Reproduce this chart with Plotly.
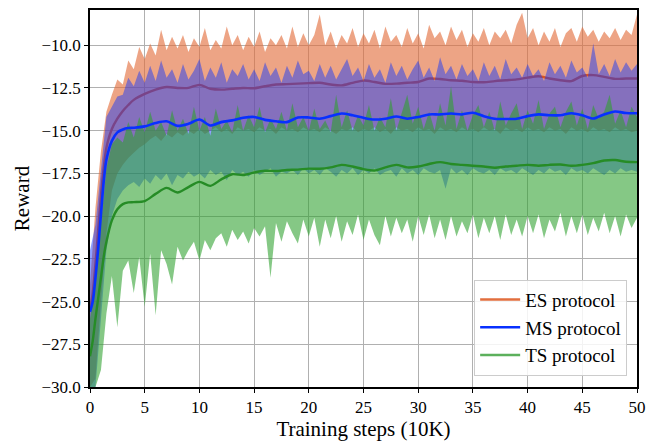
import numpy as np
import plotly.graph_objects as go

# ---------------- data ----------------
series_names = ["ES protocol", "MS protocol", "TS protocol"]

# x grid of the raw-reward envelopes (0 .. 50, step 0.5)
x_raw = [i * 0.5 for i in range(101)]

es_upper = [
    -24.0, -19.5, -16.2, -13.9, -12.9, -12.0, -12.3, -10.9, -11.4, -10.1,
    -10.8, -9.9, -10.6, -9.1, -10.3, -9.5, -10.2, -9.4, -10.4, -9.6,
    -10.1, -9.0, -10.3, -9.7, -10.2, -8.9, -10.0, -9.4, -10.3, -9.5,
    -10.1, -9.2, -10.4, -9.6, -10.0, -9.4, -10.2, -8.9, -10.1, -9.3,
    -10.0, -9.4, -8.2, -10.0, -9.2, -10.2, -9.4, -9.9, -9.0, -10.1,
    -9.3, -9.9, -9.1, -10.2, -8.9, -9.8, -9.4, -10.1, -9.0, -9.9,
    -9.3, -10.2, -8.8, -9.6, -9.2, -10.0, -8.9, -9.7, -9.1, -10.1,
    -9.3, -9.8, -9.0, -10.0, -9.2, -9.6, -9.1, -9.9, -8.8, -8.1,
    -9.6, -9.0, -10.0, -9.2, -9.8, -9.0, -10.1, -9.3, -9.0, -9.8,
    -8.9, -9.5, -9.1, -9.8, -9.2, -9.6, -9.0, -9.7, -9.1, -9.4,
    -8.2,
]
es_lower = [
    -30.0, -29.5, -25.0, -21.0, -18.5, -17.5, -17.0, -16.6, -16.3, -16.0,
    -15.8, -15.5, -15.3, -15.6, -15.2, -15.4, -15.1, -15.3, -15.0, -15.2,
    -14.9, -15.2, -15.0, -14.8, -15.1, -14.9, -15.2, -14.8, -15.0, -14.9,
    -15.1, -14.8, -15.0, -14.9, -15.2, -14.8, -15.0, -14.9, -15.1, -14.8,
    -15.0, -14.9, -15.1, -14.8, -15.0, -15.2, -14.9, -15.0, -14.8, -15.1,
    -14.9, -15.0, -14.8, -15.1, -14.9, -15.2, -14.8, -15.0, -14.9, -15.1,
    -14.8, -15.0, -14.9, -15.2, -14.8, -15.0, -14.9, -15.1, -14.8, -15.0,
    -14.9, -15.1, -14.8, -15.0, -14.9, -15.2, -14.8, -15.0, -14.9, -15.1,
    -14.8, -15.0, -14.9, -15.1, -14.8, -15.0, -14.9, -15.2, -14.8, -15.0,
    -14.9, -15.1, -14.8, -15.0, -14.9, -15.1, -14.8, -15.0, -14.9, -15.1,
    -15.0,
]
ms_upper = [
    -22.0, -20.5, -17.3, -14.2, -13.6, -13.0, -12.9, -11.9, -12.4, -11.5,
    -12.2, -11.2, -12.1, -10.9, -11.9, -11.4, -12.2, -11.1, -12.0, -11.5,
    -10.8, -12.1, -11.3, -11.9, -11.0, -12.2, -11.4, -11.8, -11.1, -12.0,
    -11.4, -12.1, -11.0, -11.8, -11.3, -12.2, -11.2, -11.9, -10.9, -11.7,
    -11.5, -12.1, -11.1, -11.9, -11.2, -12.0, -11.4, -10.8, -11.8, -11.3,
    -12.1, -11.1, -11.9, -11.4, -12.2, -11.0, -11.8, -11.2, -12.0, -11.4,
    -10.9, -11.9, -11.3, -12.1, -10.7, -11.7, -11.2, -12.0, -11.1, -11.8,
    -11.4, -12.1, -11.0, -11.8, -11.2, -12.0, -10.8, -11.7, -11.3, -11.9,
    -11.1, -11.8, -11.4, -12.1, -11.0, -11.7, -11.2, -11.9, -10.9, -11.6,
    -11.3, -11.9, -9.9, -11.7, -11.1, -11.8, -10.8, -11.6, -11.0, -11.5,
    -11.1,
]
ms_lower = [
    -30.0, -30.0, -26.0, -22.0, -20.0, -19.0, -18.5, -18.2, -18.0, -18.3,
    -17.8, -18.1, -17.6, -17.9, -17.5, -18.2, -17.6, -17.8, -17.4, -17.7,
    -17.5, -17.8, -17.3, -17.6, -17.4, -17.9, -17.3, -17.6, -17.4, -17.7,
    -17.3, -17.6, -17.4, -17.2, -17.7, -17.4, -17.5, -17.3, -17.6, -17.2,
    -17.5, -17.3, -17.6, -17.2, -17.4, -17.7, -17.3, -17.5, -17.2, -17.6,
    -17.3, -17.5, -17.2, -17.6, -17.4, -17.3, -17.7, -17.2, -17.5, -17.3,
    -17.6, -17.2, -17.4, -17.5, -17.3, -18.4, -17.2, -17.5, -17.3, -17.6,
    -17.2, -17.4, -17.5, -17.3, -17.6, -17.2, -17.4, -17.3, -17.5, -17.2,
    -17.4, -17.6, -17.3, -17.5, -17.2, -17.4, -17.3, -17.6, -17.2, -17.4,
    -17.3, -17.5, -17.2, -17.4, -17.6, -17.3, -17.5, -17.2, -17.4, -17.3,
    -17.4,
]
ts_upper = [
    -26.0, -24.0, -20.5, -17.2, -15.8, -15.4, -15.7, -14.5, -15.4, -14.2,
    -15.1, -13.9, -15.0, -14.5, -15.3, -13.8, -15.0, -14.3, -15.2, -13.6,
    -15.0, -14.2, -15.3, -13.7, -14.9, -14.4, -15.1, -13.5, -15.0, -14.1,
    -14.8, -13.6, -15.1, -14.3, -14.9, -13.9, -15.0, -13.4, -14.8, -14.2,
    -15.0, -13.7, -14.9, -14.4, -15.1, -12.9, -14.8, -13.8, -15.0, -14.1,
    -14.7, -13.5, -15.0, -14.2, -14.8, -13.1, -15.0, -14.0, -12.9, -14.6,
    -13.6, -14.9, -13.9, -15.0, -13.4, -14.7, -12.4, -14.9, -13.8, -15.0,
    -14.1, -13.5, -14.8, -13.9, -15.0, -13.3, -14.7, -14.0, -13.4, -14.9,
    -13.8, -14.6, -13.2, -14.9, -14.0, -13.6, -14.8, -13.9, -13.3, -14.7,
    -13.7, -14.9, -13.5, -14.3, -13.9, -12.9, -14.6, -13.8, -14.8, -13.6,
    -14.2,
]
ts_lower = [
    -30.0, -30.0, -29.0, -25.7, -23.5, -26.5, -23.2, -22.6, -24.5, -22.4,
    -25.3, -22.2, -25.8, -22.0, -22.8, -24.0, -21.8, -22.6, -22.0, -21.5,
    -22.6, -21.4, -22.0, -21.3, -21.0, -21.8, -20.8, -21.4, -20.9, -21.6,
    -20.7, -21.2, -20.6, -23.6, -20.4, -21.5, -20.3, -21.0, -21.6, -20.2,
    -21.2, -20.1, -21.8, -20.2, -21.3, -20.0, -21.5, -20.3, -21.1, -19.9,
    -21.4, -20.2, -21.1, -21.7, -20.0, -21.2, -20.1, -21.0, -20.2, -21.5,
    -20.0, -21.1, -19.9, -21.3, -20.2, -21.4, -20.0, -21.2, -20.3, -21.0,
    -19.9, -21.3, -20.1, -21.0, -20.0, -21.4, -19.9, -21.1, -20.2, -21.2,
    -20.0, -21.0, -19.9, -21.3, -20.2, -20.9, -19.8, -21.2, -20.0, -21.0,
    -19.9, -21.1, -20.1, -20.9, -19.8, -21.0, -20.0, -21.2, -19.9, -20.7,
    -20.1,
]

# smoothed curves
x_smooth = [0, 0.25, 0.5, 0.75, 1, 1.25, 1.5, 2, 2.5, 3, 3.5, 4, 5, 6, 7, 8, 9, 10,
            11, 12, 13, 14, 15, 16, 17, 18, 19, 20, 21, 22, 23, 24, 25, 26, 27, 28,
            29, 30, 31, 32, 33, 34, 35, 36, 37, 38, 39, 40, 41, 42, 43, 44, 45, 46,
            47, 48, 49, 50]
es_smooth = [-25.5, -24.5, -22.8, -20.8, -18.8, -17.2, -16.0, -14.9, -14.3, -13.85,
             -13.5, -13.2, -12.85, -12.6, -12.45, -12.5, -12.5, -12.32, -12.55, -12.6,
             -12.55, -12.5, -12.52, -12.4, -12.3, -12.28, -12.25, -12.22, -12.2, -12.3,
             -12.35, -12.2, -12.07, -12.15, -12.26, -12.25, -12.2, -12.15, -11.95, -11.98,
             -12.05, -12.08, -12.15, -12.17, -12.1, -12.05, -12.0, -11.9, -11.82, -11.95,
             -12.05, -12.1, -11.8, -11.75, -11.85, -11.97, -11.95, -11.95]
ms_smooth = [-25.6, -25.0, -23.6, -21.9, -19.9, -18.0, -16.7, -15.6, -15.1, -14.93,
             -14.85, -14.83, -14.75, -14.55, -14.45, -14.72, -14.6, -14.35, -14.7, -14.5,
             -14.4, -14.25, -14.2, -14.37, -14.45, -14.5, -14.23, -14.23, -14.3, -14.15,
             -14.0, -14.1, -14.25, -14.35, -14.3, -14.17, -14.3, -14.2, -14.05, -14.05,
             -14.0, -14.05, -13.95, -14.15, -14.3, -14.32, -14.3, -14.15, -14.05, -14.1,
             -14.1, -13.98, -14.1, -14.29, -14.05, -13.88, -13.97, -13.98]
ts_smooth = [-28.2, -27.3, -26.0, -24.8, -23.6, -22.4, -21.5, -20.25, -19.6, -19.3,
             -19.2, -19.18, -19.12, -18.7, -18.35, -18.62, -18.3, -18.0, -18.23, -17.85,
             -17.55, -17.6, -17.45, -17.35, -17.36, -17.3, -17.28, -17.22, -17.23, -17.15,
             -17.0, -17.1, -17.25, -17.33, -17.15, -17.0, -17.15, -17.1, -16.95, -16.84,
             -16.95, -17.0, -17.05, -17.1, -17.17, -17.1, -17.05, -17.0, -17.05, -17.0,
             -16.98, -17.05, -17.0, -16.9, -16.75, -16.72, -16.82, -16.84]

x_ticks = [0, 5, 10, 15, 20, 25, 30, 35, 40, 45, 50]
y_ticks = [-30.0, -27.5, -25.0, -22.5, -20.0, -17.5, -15.0, -12.5, -10.0]

for arr in (es_upper, es_lower, ms_upper, ms_lower, ts_upper, ts_lower):
    assert len(arr) == len(x_raw), len(arr)
for arr in (es_smooth, ms_smooth, ts_smooth):
    assert len(arr) == len(x_smooth), len(arr)

# ---------------- figure ----------------
FONT = "Liberation Serif, Times New Roman, serif"


def band(upper, lower, color):
    return go.Scatter(
        x=x_raw + x_raw[::-1], y=upper + lower[::-1],
        fill="toself", fillcolor=color, mode="lines",
        line=dict(width=0), hoverinfo="skip", showlegend=False,
    )


def curve(y, color, width=2.6):
    return go.Scatter(x=x_smooth, y=y, mode="lines",
                      line=dict(color=color, width=width, shape="spline", smoothing=0.8),
                      hoverinfo="skip", showlegend=False)


fig = go.Figure()
fig.add_trace(band(es_upper, es_lower, "rgba(226,108,58,0.62)"))
fig.add_trace(curve(es_smooth, "rgb(214,84,36)", 2.4))
fig.add_trace(band(ms_upper, ms_lower, "rgba(10,50,255,0.46)"))
fig.add_trace(band(ts_upper, ts_lower, "rgba(44,160,44,0.58)"))
fig.add_trace(curve(ms_smooth, "rgb(8,48,255)", 2.6))
fig.add_trace(curve(ts_smooth, "rgb(38,140,38)", 2.4))

legend_colors = ["rgb(226,110,62)", "rgb(8,48,255)", "rgb(92,176,92)"]
for name, col in zip(series_names, legend_colors):
    fig.add_trace(go.Scatter(x=[None], y=[None], mode="lines", name=name,
                             line=dict(color=col, width=2.6)))

axis_common = dict(
    showline=True, linecolor="black", linewidth=1.6, mirror=True,
    ticks="outside", ticklen=4, tickwidth=1.2, tickcolor="black",
    showgrid=True, gridcolor="#b0b0b0", gridwidth=1,
    zeroline=False, tickfont=dict(family=FONT, size=17, color="black"),
)

# the page adds an 8 px body margin, so the figure is sized to fit inside it
fig.update_layout(
    width=649, height=435,
    margin=dict(l=82, r=20, t=0, b=56),
    paper_bgcolor="white", plot_bgcolor="white",
    font=dict(family=FONT, color="black"),
    showlegend=True,
    legend=dict(
        x=0.982, y=0.03, xanchor="right", yanchor="bottom",
        bgcolor="rgba(255,255,255,0.85)", bordercolor="#cccccc", borderwidth=1,
        font=dict(family=FONT, size=19, color="black"),
        itemwidth=40, tracegroupgap=0,
    ),
    xaxis=dict(range=[0, 50], tickvals=x_ticks,
               title=dict(text="Training steps (10K)", font=dict(family=FONT, size=21),
                          standoff=4),
               **axis_common),
    yaxis=dict(range=[-30, -7.94], tickvals=y_ticks, tickformat=".1f",
               title=dict(text="Reward", font=dict(family=FONT, size=21), standoff=6),
               **axis_common),
)

fig.write_html("out.html")
